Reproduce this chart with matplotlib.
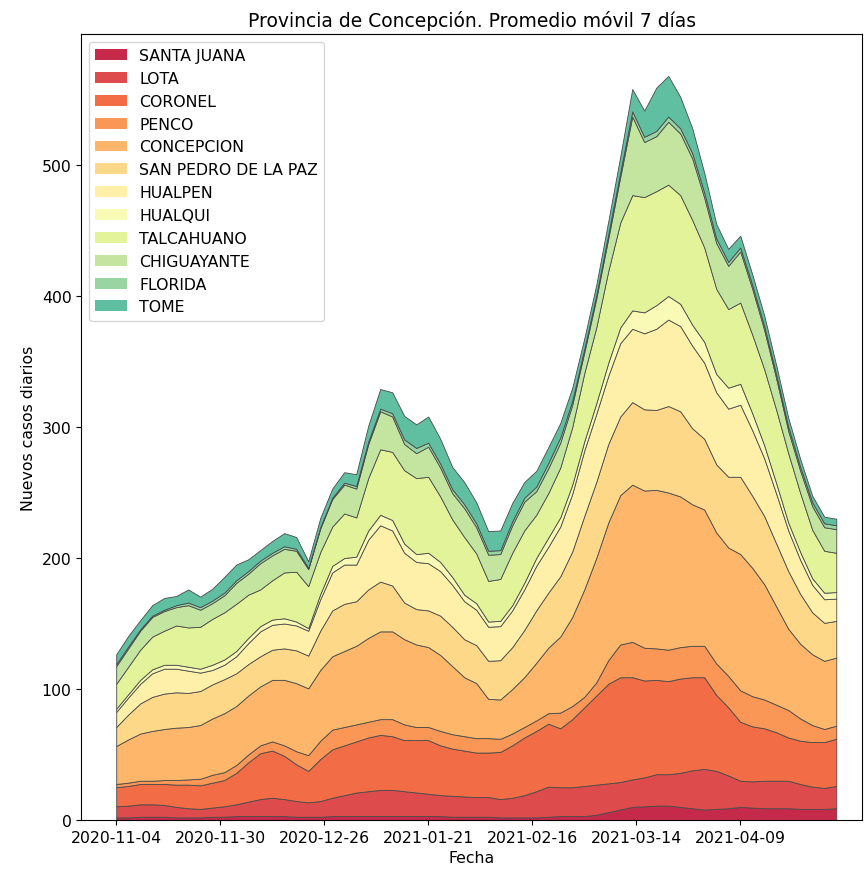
import numpy as np
import pandas as pd
import matplotlib
matplotlib.use('Agg')
import matplotlib.pyplot as plt
from matplotlib.patches import Patch

plt.rcParams['font.size'] = 11.3

# fechas cada 3 dias
fechas = pd.date_range('2020-11-04', periods=61, freq='3D')
tick_fechas = pd.date_range('2020-11-04', periods=7, freq='26D')

comunas = ['SANTA JUANA', 'LOTA', 'CORONEL', 'PENCO', 'CONCEPCION',
           'SAN PEDRO DE LA PAZ', 'HUALPEN', 'HUALQUI', 'TALCAHUANO',
           'CHIGUAYANTE', 'FLORIDA', 'TOME']

santa_juana = [2, 2, 2.5, 2.5, 2.5, 2, 2, 2, 2.5, 2.5, 3, 3, 3, 3, 3, 2.5, 2.5, 2.5, 3, 3,
               3, 3, 3, 3, 3, 3, 3, 3, 2.5, 2.5, 2.5, 2.5, 2, 2, 2, 2, 2.5, 3, 3, 3,
               4, 6, 8, 10, 10.5, 11, 11, 10, 9, 8, 8.5, 9, 10, 9.5, 9, 9, 9, 8.5, 8.5, 8.5, 9]
lota = [8.5, 9, 9.5, 9.5, 9, 8, 7, 6.5, 7, 8, 9, 11, 13, 14, 13, 12, 11, 12, 14, 16,
        18, 19, 20, 20, 19, 18, 17, 16, 16, 15.5, 15, 15, 14, 15, 17, 20, 23, 22, 22, 23,
        23, 22, 21, 21, 22, 24, 24, 26, 29, 31, 29, 25, 20, 20, 21, 21, 21, 19, 17, 16, 17]
coronel = [14.5, 15, 15.5, 15.5, 16, 17, 18, 18, 19, 20, 24, 30, 35, 36, 33, 28, 24, 32, 37, 38,
           39, 41, 42, 41, 39, 40, 41, 38, 36, 35, 34, 34, 36, 40, 44, 46, 48, 45, 52, 60,
           68, 76, 80, 78, 74, 72, 71, 72, 71, 70, 58, 52, 45, 42, 40, 37, 33, 33, 34, 35, 36]
penco = [2.5, 2.5, 2.5, 2.5, 3, 3.5, 4, 5, 6, 6, 6, 6, 6, 7, 8, 10, 12, 14, 15, 14,
         13, 12, 12, 13, 12, 10, 10, 11, 11, 11, 11, 11, 10, 9, 8, 8, 8, 12, 10, 8,
         10, 18, 25, 27, 25, 24, 24, 24, 24, 24, 24, 24, 24, 23, 22, 21, 21, 17, 13, 10, 10]
concepcion = [29, 33, 36, 38, 39, 40, 40, 41, 43, 45, 45, 45, 45, 47, 50, 52, 51, 54, 56, 58,
              60, 64, 67, 67, 65, 63, 61, 58, 52, 45, 42, 30, 30, 34, 38, 44, 50, 58, 68, 82,
              95, 105, 114, 120, 120, 121, 120, 115, 108, 104, 100, 98, 104, 98, 88, 75, 62, 57, 54, 52, 52]
san_pedro = [14.5, 19, 23, 26, 27, 27, 26, 26, 26, 26, 25, 24, 23, 23, 24, 25, 25, 30, 35, 36,
             34, 37, 38, 35, 28, 27, 28, 30, 30, 29, 29, 29, 30, 32, 36, 40, 42, 46, 50, 56,
             58, 60, 60, 63, 62, 61, 66, 65, 58, 54, 52, 54, 59, 55, 52, 48, 44, 38, 32, 29, 28]
hualpen = [11.5, 13, 15, 18, 19, 18, 17, 14, 11, 11, 13, 16, 19, 19, 19, 19, 19, 24, 29, 30,
           28, 38, 43, 42, 38, 36, 36, 34, 32, 29, 27, 26, 26, 28, 31, 34, 35, 38, 44, 50,
           52, 52, 56, 56, 58, 62, 66, 65, 63, 58, 55, 52, 55, 50, 44, 38, 31, 26, 21, 18, 17]
hualqui = [2.5, 2.5, 3, 3, 3, 3, 3, 3, 4, 4, 4, 4, 4, 4, 4, 3, 2, 4, 5, 5,
           6, 7, 8, 8, 7, 6, 8, 7, 6, 5, 5, 4, 4, 4, 5, 6, 7, 7, 7, 7,
           8, 10, 12, 14, 16, 18, 18, 17, 16, 16, 14, 16, 16, 13, 10, 8, 6, 6, 5, 5, 5]
talcahuano = [19, 21, 23, 25, 26, 30, 30, 32, 35, 36, 36, 33, 28, 30, 35, 38, 32, 32, 30, 34,
              30, 40, 50, 52, 56, 58, 58, 50, 44, 44, 38, 31, 32, 40, 40, 33, 34, 38, 44, 52,
              58, 70, 80, 88, 88, 87, 85, 83, 80, 72, 65, 60, 62, 60, 58, 56, 53, 45, 37, 32, 30]
chiguayante = [13.5, 14, 14.5, 15, 15, 14, 17, 13, 12, 13, 16, 16, 20, 19, 18, 16, 13, 18, 21, 22,
               22, 26, 29, 27, 20, 19, 23, 22, 20, 22, 20, 20, 19, 21, 22, 18, 19, 19, 17, 16,
               22, 25, 35, 60, 42, 42, 48, 47, 47, 38, 35, 33, 39, 35, 30, 24, 17, 17, 18, 18, 18]
florida = [1.5, 1.5, 1, 1, 1, 1.5, 2, 2, 2, 2, 2, 2, 2, 2, 2, 1.5, 1, 1, 1, 1.5,
           2, 2, 2, 2.5, 3.5, 4, 3, 3, 3, 3, 3, 3, 3, 3, 3, 3.5, 4, 4, 3, 2.5,
           2.5, 3, 3.5, 4, 4, 4, 4, 4, 4, 4, 3.5, 3, 3, 3, 3, 3, 3, 3, 3, 3, 3]
tome = [7.5, 8, 7, 8, 9, 7, 10, 8, 9, 12, 12, 9, 8, 9, 10, 9, 5, 7, 7, 8,
        9, 12, 15, 16, 18, 18, 20, 19, 17, 17, 16, 15, 15, 14, 12, 12, 12, 11, 10, 8,
        8, 10, 12, 17, 20, 33, 31, 24, 19, 15, 11, 10, 9, 8, 8, 7, 7, 6, 5, 5, 5]

colores = ['#c62a4b', '#dd4b4c', '#f26d45', '#fa9656', '#fdb66a', '#fdd888',
           '#fef0a8', '#f8fab5', '#e2f39a', '#c3e5a0', '#98d5a2', '#5fbfa0']

series = [santa_juana, lota, coronel, penco, concepcion, san_pedro,
          hualpen, hualqui, talcahuano, chiguayante, florida, tome]

fig = plt.figure(figsize=(8.64, 8.70), dpi=100)
ax = fig.add_axes([0.094, 0.0563, 0.904, 0.9035])

ax.stackplot(fechas, *series, colors=colores,
             edgecolor='#4a4a4a', linewidth=0.6)

x0 = fechas[0]
ax.set_xlim(x0 - pd.Timedelta(days=8.75), x0 + pd.Timedelta(days=186.5))
ax.set_ylim(0, 600)
ax.set_xticks(tick_fechas)
ax.set_xticklabels([d.strftime('%Y-%m-%d') for d in tick_fechas])
ax.set_yticks([0, 100, 200, 300, 400, 500])

ax.set_title('Provincia de Concepción. Promedio móvil 7 días', fontsize=13.5)
ax.set_xlabel('Fecha')
ax.set_ylabel('Nuevos casos diarios')

# leyenda sin borde en los parches
handles = [Patch(facecolor=c, edgecolor='none', label=n) for c, n in zip(colores, comunas)]
ax.legend(handles=handles, loc='upper left')

plt.savefig('out.png', dpi=100)
